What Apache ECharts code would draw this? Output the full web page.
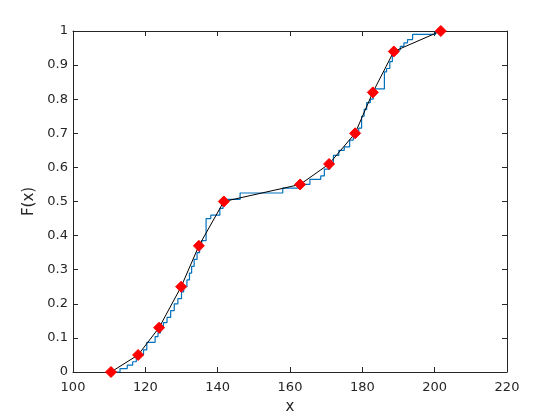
<!DOCTYPE html>
<html>
<head>
<meta charset="utf-8">
<script src="https://cdn.jsdelivr.net/npm/echarts@6/dist/echarts.min.js"></script>
<style>html,body{margin:0;padding:0;background:#fff}#c{width:560px;height:420px}</style>
</head>
<body>
<div id="c"></div>
<script>
// Empirical CDF (stairs): sample x values and F after each jump
const stairX = [110.5,113,115,116.5,117.5,118.3,119.5,120.4,122.7,123.5,124.2,125,126,127,128,129,130,130.6,131.5,132.2,132.8,133.5,134.3,135,135.6,136.8,138.1,140.6,141.5,142,142.5,146.2,158,162.5,165.5,168.5,169.5,171,172,173.5,175,176.5,177.5,178.2,179,179.8,180.5,181.2,182.2,183,183.6,186.1,186.7,187.6,188.3,188.9,189.5,190.5,191.5,192.5,193.9,200.2];
const stairF = [0,0.01,0.02,0.03,0.04,0.05,0.065,0.087,0.104,0.115,0.13,0.145,0.16,0.18,0.2,0.215,0.235,0.25,0.27,0.29,0.31,0.33,0.35,0.37,0.385,0.45,0.46,0.48,0.49,0.50,0.506,0.525,0.539,0.55,0.565,0.575,0.595,0.61,0.635,0.65,0.66,0.68,0.69,0.70,0.715,0.75,0.77,0.79,0.80,0.82,0.83,0.88,0.89,0.91,0.93,0.94,0.945,0.955,0.965,0.975,0.99,1.0];
// Red marker points joined by black line
const pointX = [110.5,118,123.8,129.9,134.8,141.7,162.8,170.8,178,182.9,188.7,201.7];
const pointF = [0,0.05,0.13,0.25,0.37,0.5,0.55,0.61,0.70,0.82,0.94,1];
const xTicks = [100,120,140,160,180,200,220];
const yTicks = [0,0.1,0.2,0.3,0.4,0.5,0.6,0.7,0.8,0.9,1];

const stairData = stairX.map((x,i)=>[x,stairF[i]]);
const pointData = pointX.map((x,i)=>[x,pointF[i]]);
const axCol = '#262626';
const font = 'DejaVu Sans';
const baseAxis = {
  axisLine:{show:true,onZero:false,lineStyle:{color:axCol,width:1}},
  axisTick:{show:true,inside:true,length:5,lineStyle:{color:axCol,width:1}},
  splitLine:{show:false}
};
const chart = echarts.init(document.getElementById('c'),null,{renderer:'canvas'});
chart.setOption({
  animation:false,
  backgroundColor:'#fff',
  grid:{left:73,right:53,top:31,bottom:47,containLabel:false},
  xAxis:[
    Object.assign({type:'value',position:'bottom',min:xTicks[0],max:xTicks[xTicks.length-1],interval:20,
      name:'x',nameLocation:'middle',nameGap:28,
      nameTextStyle:{fontFamily:font,fontSize:15,color:axCol},
      axisLabel:{fontFamily:font,fontSize:13,color:axCol,margin:9}},baseAxis),
    Object.assign({type:'value',position:'top',min:xTicks[0],max:xTicks[xTicks.length-1],interval:20,
      axisLabel:{show:false}},baseAxis)
  ],
  yAxis:[
    Object.assign({type:'value',position:'left',min:yTicks[0],max:yTicks[yTicks.length-1],interval:0.1,
      name:'F(x)',nameLocation:'middle',nameGap:32,nameRotate:90,
      nameTextStyle:{fontFamily:font,fontSize:15,color:axCol,padding:[0,0,-6,0]},
      axisLabel:{fontFamily:font,fontSize:13,color:axCol,margin:5}},baseAxis),
    Object.assign({type:'value',position:'right',min:yTicks[0],max:yTicks[yTicks.length-1],interval:0.1,
      axisLabel:{show:false}},baseAxis)
  ],
  series:[
    {type:'line',data:stairData,step:'end',showSymbol:false,symbol:'none',
     lineStyle:{color:'#0072BD',width:1.2},z:2},
    {type:'line',data:pointData,symbol:'diamond',symbolSize:11,
     lineStyle:{color:'#000',width:1},itemStyle:{color:'#ff0000',borderColor:'#ff0000'},z:3}
  ]
});
</script>
</body>
</html>
